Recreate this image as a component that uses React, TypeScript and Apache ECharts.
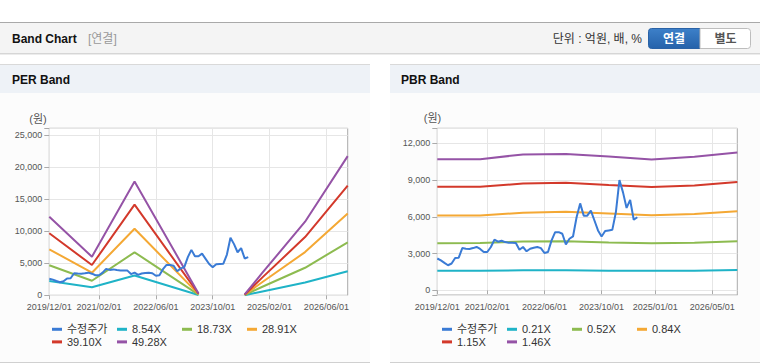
import React, { useEffect, useRef } from 'react';
import * as echarts from 'echarts';

const FONT = "'Liberation Sans', Arial, 'Noto Sans CJK KR', sans-serif";

const months = [
  '2019/12/01',
  '2020/01/01','2020/02/01','2020/03/01','2020/04/01','2020/05/01','2020/06/01','2020/07/01','2020/08/01','2020/09/01','2020/10/01','2020/11/01','2020/12/01',
  '2021/01/01','2021/02/01','2021/03/01','2021/04/01','2021/05/01','2021/06/01','2021/07/01','2021/08/01','2021/09/01','2021/10/01','2021/11/01','2021/12/01',
  '2022/01/01','2022/02/01','2022/03/01','2022/04/01','2022/05/01','2022/06/01','2022/07/01','2022/08/01','2022/09/01','2022/10/01','2022/11/01','2022/12/01',
  '2023/01/01','2023/02/01','2023/03/01','2023/04/01','2023/05/01','2023/06/01','2023/07/01','2023/08/01','2023/09/01','2023/10/01','2023/11/01','2023/12/01',
  '2024/01/01','2024/02/01','2024/03/01','2024/04/01','2024/05/01','2024/06/01','2024/07/01','2024/08/01','2024/09/01','2024/10/01','2024/11/01','2024/12/01',
  '2025/01/01','2025/02/01','2025/03/01','2025/04/01','2025/05/01','2025/06/01','2025/07/01','2025/08/01','2025/09/01','2025/10/01','2025/11/01','2025/12/01',
  '2026/01/01','2026/02/01','2026/03/01','2026/04/01','2026/05/01','2026/06/01','2026/07/01','2026/08/01','2026/09/01','2026/10/01','2026/11/01','2026/12/01',
];

const perTicks = ['2019/12/01', '2021/02/01', '2022/06/01', '2023/10/01', '2025/02/01', '2026/06/01'];
const pbrTicks = ['2019/12/01', '2021/02/01', '2022/06/01', '2023/10/01', '2025/01/01', '2026/05/01'];

// 수정주가 (monthly, from 2019/12)
const price = [
  2600, 2450, 2240, 2050, 2190, 2640, 2670, 3450, 3400, 3380, 3450, 3540, 3380,
  3130, 3130, 3540, 4135, 3970, 4050, 3940, 3890, 3890, 3860, 3320, 3540,
  3190, 3400, 3480, 3540, 3450, 3050, 3130, 4080, 4750, 4750, 4620, 3750,
  4210, 4400, 5970, 7100, 6100, 6100, 6510, 5700, 4890, 4400, 4840, 4890,
  4940, 6370, 9000, 8000, 6730, 7380, 5760, 5970,
];

// PER band knots (null = break)
const perBandDates = ['2019/12/01', '2020/12/01', '2021/12/01', '2023/06/01', '2023/12/01', '2024/07/01', '2024/12/01', '2025/12/01', '2026/12/01'];
const per854 = [2230, 1250, 3100, 50, null, 20, 610, 2000, 3750];
const per1873 = [4690, 2280, 6720, 110, null, 50, 1340, 4300, 8280];
const per2891 = [7190, 3530, 10410, 180, null, 80, 2070, 6750, 12780];
const per3910 = [9690, 4730, 14160, 240, null, 100, 2800, 9100, 17150];
const per4928 = [12280, 6030, 17800, 300, null, 130, 3530, 11500, 21750];

// PBR band knots
const pbrBandDates = ['2019/12/01', '2020/12/01', '2021/12/01', '2022/12/01', '2023/12/01', '2024/12/01', '2025/12/01', '2026/12/01'];
const pbr021 = [1590, 1590, 1640, 1650, 1610, 1590, 1610, 1660];
const pbr052 = [3850, 3860, 3980, 4000, 3900, 3850, 3880, 4000];
const pbr084 = [6120, 6120, 6330, 6420, 6280, 6130, 6230, 6460];
const pbr115 = [8460, 8460, 8720, 8790, 8600, 8440, 8560, 8850];
const pbr146 = [10700, 10700, 11100, 11130, 10920, 10680, 10900, 11260];

const perNames = ['수정주가', '8.54X', '18.73X', '28.91X', '39.10X', '49.28X'];
const pbrNames = ['수정주가', '0.21X', '0.52X', '0.84X', '1.15X', '1.46X'];

const COLORS = ['#3a7bd5', '#1fb3c7', '#8dbb50', '#f4a834', '#d3392b', '#9553a6'];

const pairs = (dates: string[], vals: (number | null)[]) => dates.map((d, i) => [d, vals[i]]);

const fmt = (v: number) => v.toLocaleString('en-US');

function buildOption() {
  const xAxisFor = (gridIndex: number, ticks: string[]) => {
    const f = (_i: number, v: string) => ticks.includes(v);
    return {
      type: 'category',
      gridIndex,
      data: months,
      boundaryGap: false,
      axisLine: { show: false },
      axisTick: { show: true, interval: f, length: 4, lineStyle: { color: '#aaa' } },
      axisLabel: { interval: f, color: '#555', fontSize: 9, margin: 7, fontFamily: FONT },
      splitLine: { show: true, interval: f, lineStyle: { color: '#e6e6e6', width: 1 } },
    };
  };

  const lineSeries = (name: string, color: string, data: any[], xi: number, z = 2) => ({
    type: 'line',
    name,
    xAxisIndex: xi,
    yAxisIndex: xi,
    data,
    showSymbol: false,
    symbol: 'none',
    connectNulls: false,
    z,
    lineStyle: { color, width: 2 },
    itemStyle: { color },
  });

  const legendFor = (left: number, names: string[]) => ({
    data: names,
    left,
    top: 323,
    width: 262,
    orient: 'horizontal',
    icon: 'rect',
    itemWidth: 10,
    itemHeight: 3,
    itemGap: 0,
    padding: 0,
    selectedMode: false,
    textStyle: { fontSize: 11, color: '#333', width: 50, lineHeight: 12.6, fontFamily: FONT },
  });

  const txt = (x: number, y: number, text: string, size: number, fill: string, weight = 'normal', align = 'left') => ({
    type: 'text',
    x,
    y,
    silent: true,
    style: {
      text,
      fill,
      fontSize: size,
      fontWeight: weight,
      fontFamily: FONT,
      align,
      verticalAlign: 'middle',
      textAlign: align,
      textVerticalAlign: 'middle',
    },
  });

  const rect = (x: number, y: number, w: number, h: number, fill: any, extra: any = {}) => ({
    type: 'rect',
    silent: true,
    shape: { x, y, width: w, height: h, r: extra.r || 0 },
    style: { fill, stroke: extra.stroke || null, lineWidth: extra.stroke ? 1 : 0 },
    z: -10,
  });

  const graphic = [
    // header
    rect(0, 22, 760, 1, '#a9a9a9'),
    rect(0, 23, 760, 30, '#f4f4f4'),
    rect(0, 53, 760, 1, '#d6d6d6'),
    rect(0, 54, 760, 1, '#ececec'),
    txt(12, 38.5, 'Band Chart', 12, '#111', 'bold'),
    txt(88, 38.5, '[연결]', 12, '#999'),
    txt(642, 38.5, '단위 : 억원, 배, %', 12, '#333', 'normal', 'right'),
    {
      type: 'rect',
      silent: true,
      shape: { x: 648.5, y: 28.5, width: 51.5, height: 20, r: [3, 0, 0, 3] },
      style: {
        fill: new echarts.graphic.LinearGradient(0, 0, 0, 1, [
          { offset: 0, color: '#3d80c9' },
          { offset: 1, color: '#2562aa' },
        ]),
        stroke: '#2a62a6',
        lineWidth: 1,
      },
    },
    {
      type: 'rect',
      silent: true,
      shape: { x: 700, y: 28.5, width: 50.5, height: 20, r: [0, 3, 3, 0] },
      style: { fill: '#ffffff', stroke: '#bdbdbd', lineWidth: 1 },
    },
    txt(674, 38.5, '연결', 12, '#ffffff', 'bold', 'center'),
    txt(725.5, 38.5, '별도', 12, '#555', 'bold', 'center'),
    // left panel
    rect(0, 64, 370, 298, '#fcfcfc'),
    rect(0, 64, 370, 1, '#d9d9d9'),
    rect(0, 65, 370, 28, '#eef2f7'),
    rect(0, 362, 370, 1, '#d0d0d0'),
    txt(12, 80, 'PER Band', 12, '#111', 'bold'),
    txt(38, 119, '(원)', 11, '#555', 'normal', 'center'),
    // right panel
    rect(390, 64, 370, 298, '#fcfcfc'),
    rect(390, 64, 370, 1, '#d9d9d9'),
    rect(390, 65, 370, 28, '#eef2f7'),
    rect(390, 362, 370, 1, '#d0d0d0'),
    txt(401, 80, 'PBR Band', 12, '#111', 'bold'),
    txt(432.5, 118, '(원)', 11, '#555', 'normal', 'center'),
  ];

  const perBands = [per854, per1873, per2891, per3910, per4928];
  const pbrBands = [pbr021, pbr052, pbr084, pbr115, pbr146];

  const series: any[] = [];
  series.push(lineSeries(perNames[0], COLORS[0], price, 0, 5));
  perBands.forEach((b, i) => series.push(lineSeries(perNames[i + 1], COLORS[i + 1], pairs(perBandDates, b), 0)));
  series.push(lineSeries(pbrNames[0], COLORS[0], price, 1, 5));
  pbrBands.forEach((b, i) => series.push(lineSeries(pbrNames[i + 1], COLORS[i + 1], pairs(pbrBandDates, b), 1)));

  return {
    animation: false,
    backgroundColor: '#ffffff',
    textStyle: { fontFamily: FONT },
    graphic,
    grid: [
      { left: 49.3, top: 128.3, width: 298.4, height: 167, show: true, borderColor: '#aaa', borderWidth: 1, backgroundColor: '#fff' },
      { left: 437.3, top: 128.3, width: 300, height: 166.7, show: true, borderColor: '#aaa', borderWidth: 1, backgroundColor: '#fff' },
    ],
    xAxis: [xAxisFor(0, perTicks), xAxisFor(1, pbrTicks)],
    yAxis: [
      {
        type: 'value',
        gridIndex: 0,
        min: 0,
        max: 26100,
        interval: 5000,
        axisLine: { show: false },
        axisTick: { show: true, length: 5, lineStyle: { color: '#aaa' } },
        axisLabel: { formatter: (v: number) => (v % 5000 === 0 ? fmt(v) : ''), color: '#555', fontSize: 9, margin: 7, fontFamily: FONT },
        splitLine: { lineStyle: { color: '#e6e6e6' } },
      },
      {
        type: 'value',
        gridIndex: 1,
        min: -380,
        max: 13230,
        splitNumber: 5,
        axisLine: { show: false },
        axisTick: { show: true, length: 5, lineStyle: { color: '#aaa' } },
        axisLabel: { formatter: (v: number) => (v % 3000 === 0 ? fmt(v) : ''), color: '#555', fontSize: 9, margin: 7, fontFamily: FONT },
        splitLine: { lineStyle: { color: '#e6e6e6' } },
      },
    ],
    legend: [legendFor(52, perNames), legendFor(442, pbrNames)],
    series,
  };
}

export default function App() {
  const ref = useRef<HTMLDivElement>(null);
  useEffect(() => {
    if (!ref.current) return;
    const chart = echarts.init(ref.current, null, { renderer: 'svg' });
    chart.setOption(buildOption() as any);
    return () => chart.dispose();
  }, []);
  return <div ref={ref} style={{ position: 'absolute', left: 0, top: 0, width: 760, height: 364 }} />;
}
